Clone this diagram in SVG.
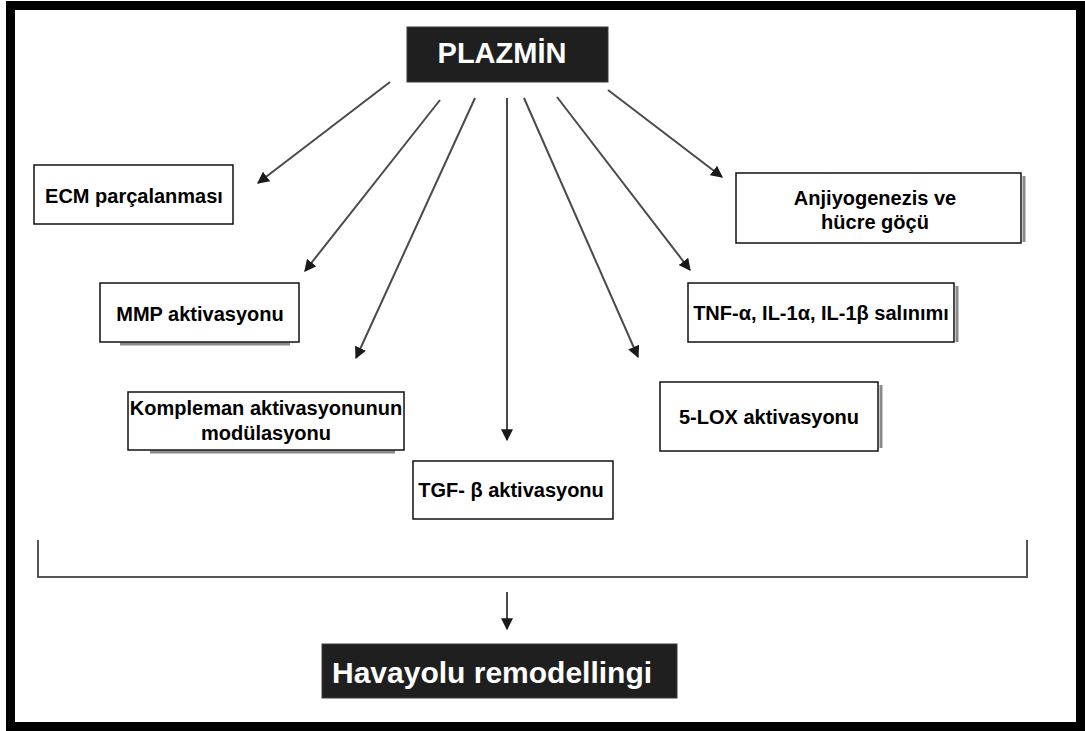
<svg xmlns="http://www.w3.org/2000/svg" width="1085" height="731" viewBox="0 0 1085 731">
  <style>
    .box { fill: #ffffff; stroke: #111111; stroke-width: 1.5; }
    .shadow { fill: none; stroke: #8a8a8a; stroke-width: 3; }
    .dark { fill: #1f1f1f; stroke: #3a3a3a; stroke-width: 1; }
    .lbl { font-family: "Liberation Sans", Arial, sans-serif; font-weight: bold; font-size: 20px; fill: #000000; text-anchor: middle; }
    .wlbl { font-family: "Liberation Sans", Arial, sans-serif; font-weight: bold; fill: #ffffff; }
    .conn { stroke: #4a4a4a; stroke-width: 2; fill: none; marker-end: url(#ah); }
    .brk { stroke: #555555; stroke-width: 2; fill: none; }
  </style>
  <defs>
    <marker id="ah" viewBox="0 0 10 10" refX="9" refY="5" markerWidth="6" markerHeight="6" markerUnits="strokeWidth" orient="auto">
      <path d="M0,0 L10,5 L0,10 z" fill="#1a1a1a"/>
    </marker>
  </defs>

  <rect x="0" y="0" width="1085" height="731" fill="#ffffff"/>
  <rect id="frame" x="10.5" y="5.5" width="1070" height="721" fill="none" stroke="#000000" stroke-width="9"/>

  <g id="plazmin">
    <rect class="dark" x="407" y="27" width="201" height="55"/>
    <text class="wlbl" x="502" y="63" font-size="29" text-anchor="middle">PLAZMİN</text>
  </g>

  <g id="connectors">
    <line class="conn" x1="390" y1="82" x2="258" y2="183"/>
    <line class="conn" x1="440" y1="100" x2="305" y2="271"/>
    <line class="conn" x1="475" y1="98" x2="356" y2="358"/>
    <line class="conn" x1="507" y1="98" x2="507" y2="440"/>
    <line class="conn" x1="524" y1="98" x2="638" y2="357"/>
    <line class="conn" x1="557" y1="97" x2="690" y2="270"/>
    <line class="conn" x1="608" y1="90" x2="722" y2="177"/>
    <path class="brk" d="M38,540 L38,577 L1027,577 L1027,540"/>
    <line class="conn" x1="507" y1="592" x2="507" y2="629"/>
  </g>

  <g id="ecm">
    <rect class="box" x="34" y="165" width="199" height="59"/>
    <text class="lbl" x="134" y="203">ECM parçalanması</text>
  </g>

  <g id="mmp">
    <line class="shadow" x1="120" y1="344" x2="290" y2="344"/>
    <rect class="box" x="100" y="283" width="199" height="59"/>
    <text class="lbl" x="200" y="321">MMP aktivasyonu</text>
  </g>

  <g id="kompleman">
    <line class="shadow" x1="150" y1="452" x2="395" y2="452"/>
    <rect class="box" x="128" y="392" width="276" height="58"/>
    <text class="lbl" x="266" y="415">Kompleman aktivasyonunun</text>
    <text class="lbl" x="266" y="440">modülasyonu</text>
  </g>

  <g id="tgf">
    <rect class="box" x="413" y="461" width="200" height="58"/>
    <text class="lbl" x="511" y="497">TGF- β aktivasyonu</text>
  </g>

  <g id="anjiyogenezis">
    <line class="shadow" x1="1024" y1="176" x2="1024" y2="242"/>
    <rect class="box" x="736" y="173" width="285" height="70"/>
    <text class="lbl" x="875" y="205">Anjiyogenezis ve</text>
    <text class="lbl" x="875" y="229">hücre göçü</text>
  </g>

  <g id="tnf">
    <line class="shadow" x1="957" y1="286" x2="957" y2="342"/>
    <rect class="box" x="688" y="283" width="266" height="59"/>
    <text class="lbl" x="821" y="320">TNF-α, IL-1α, IL-1β salınımı</text>
  </g>

  <g id="lox">
    <line class="shadow" x1="881" y1="385" x2="881" y2="448"/>
    <rect class="box" x="660" y="382" width="218" height="69"/>
    <text class="lbl" x="769" y="424">5-LOX aktivasyonu</text>
  </g>

  <g id="havayolu">
    <rect class="dark" x="322" y="644" width="355" height="54"/>
    <text class="wlbl" x="332" y="683" font-size="30">Havayolu remodellingi</text>
  </g>
</svg>
